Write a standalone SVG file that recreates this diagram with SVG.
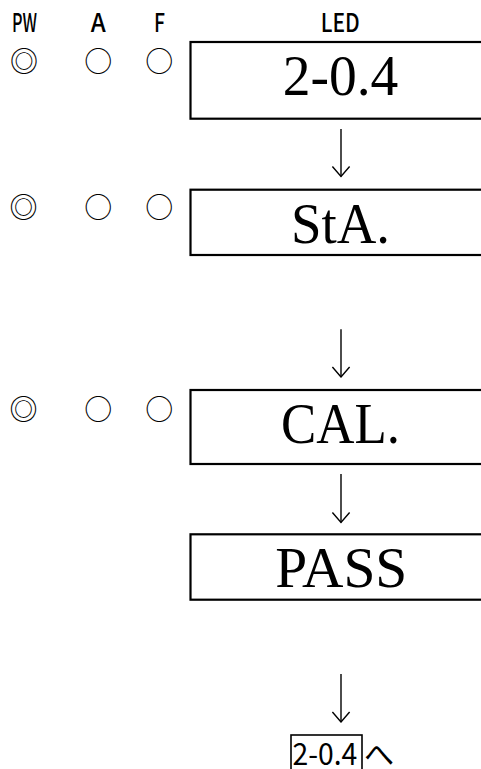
<svg xmlns="http://www.w3.org/2000/svg" width="481" height="769" viewBox="0 0 481 769">
<style>
.hdr{font-family:"Noto Sans CJK JP","DejaVu Sans",sans-serif;font-size:26px;font-weight:500;fill:#000;text-anchor:middle}
.sym{font-family:"Noto Sans CJK JP",sans-serif;font-size:28px;fill:#000;text-anchor:middle}
.box{fill:#fff;stroke:#000;stroke-width:2.2}
.led{font-family:"Liberation Serif","Times New Roman",serif;font-size:57px;fill:#000;text-anchor:middle}
.small{font-family:"Noto Sans CJK JP",sans-serif;font-size:30px;fill:#000}
.arrow{fill:none;stroke:#000;stroke-width:1.4;marker-end:url(#head)}
</style>
<defs>
<marker id="head" markerUnits="userSpaceOnUse" viewBox="-1 -10 12 20" refX="10" refY="0" markerWidth="12" markerHeight="20" orient="auto">
<path d="M0,-8.6 L10,0 L0,8.6" fill="none" stroke="#000" stroke-width="1.4"/>
</marker>
</defs>
<rect width="481" height="769" fill="#fff"/>
<g id="header">
<text class="hdr" x="24.5" y="32" textLength="25" lengthAdjust="spacingAndGlyphs">PW</text>
<text class="hdr" x="98.3" y="32" textLength="15" lengthAdjust="spacingAndGlyphs">A</text>
<text class="hdr" x="159.5" y="32" textLength="11" lengthAdjust="spacingAndGlyphs">F</text>
<text class="hdr" x="340.3" y="32" textLength="39" lengthAdjust="spacingAndGlyphs">LED</text>
</g>
<g id="row1">
<text class="sym" x="24" y="72">◎</text>
<text class="sym" x="98.3" y="72">○</text>
<text class="sym" x="159.3" y="72">○</text>
</g>
<g id="row2">
<text class="sym" x="23.5" y="218">◎</text>
<text class="sym" x="98.3" y="218">○</text>
<text class="sym" x="159.3" y="218">○</text>
</g>
<g id="row3">
<text class="sym" x="23.5" y="419.5">◎</text>
<text class="sym" x="98.3" y="419.5">○</text>
<text class="sym" x="159.3" y="419.5">○</text>
</g>
<g id="node-204">
<rect class="box" x="190.5" y="42" width="300" height="76.7"/>
<text class="led" x="340.5" y="95" textLength="115.6" lengthAdjust="spacingAndGlyphs">2-0.4</text>
</g>
<g id="node-sta">
<rect class="box" x="190.5" y="189.7" width="300" height="65.3"/>
<text class="led" x="340.5" y="243.3" textLength="99" lengthAdjust="spacingAndGlyphs">StA.</text>
</g>
<g id="node-cal">
<rect class="box" x="190.5" y="390" width="300" height="74"/>
<text class="led" x="340.5" y="442.7" textLength="119" lengthAdjust="spacingAndGlyphs">CAL.</text>
</g>
<g id="node-pass">
<rect class="box" x="190.5" y="534.3" width="300" height="65.4"/>
<text class="led" x="341.3" y="587.3" textLength="132" lengthAdjust="spacingAndGlyphs">PASS</text>
</g>
<g id="node-end">
<rect x="291" y="735" width="71" height="40" fill="#fff" stroke="#000" stroke-width="1.6"/>
<text class="small" x="292.5" y="765" textLength="64.8" lengthAdjust="spacingAndGlyphs">2-0.4</text>
<text class="small" x="364" y="765">へ</text>
</g>
<g id="connectors">
<path class="arrow" d="M341,129 V176.5"/>
<path class="arrow" d="M341,329.3 V377"/>
<path class="arrow" d="M341,474 V522.5"/>
<path class="arrow" d="M341,674 V722"/>
</g>
</svg>
